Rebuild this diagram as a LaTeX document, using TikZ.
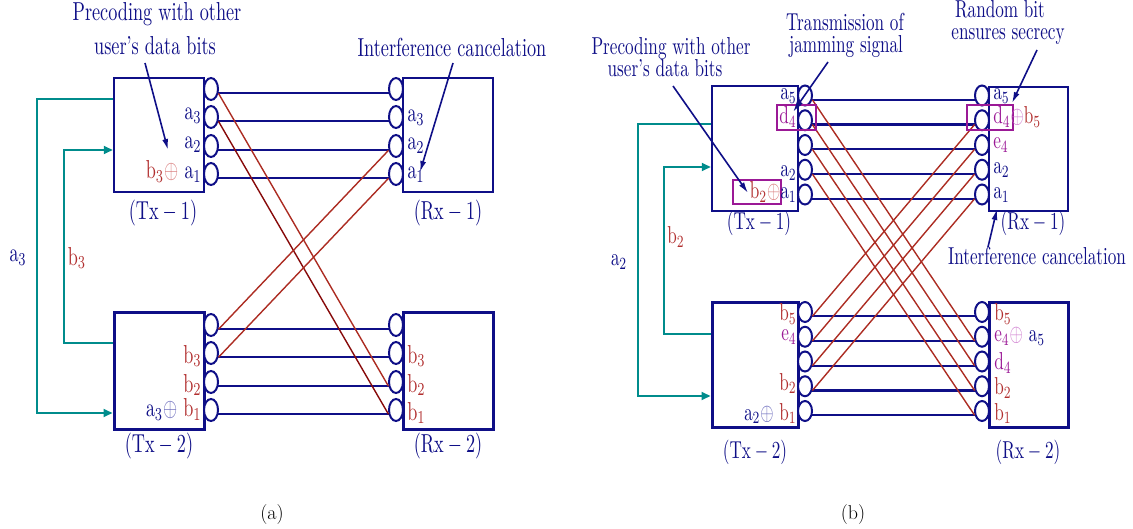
\documentclass[tikz,border=0pt]{standalone}
\usetikzlibrary{shapes.geometric,arrows.meta}
\definecolor{navy}{RGB}{15,15,135}
\definecolor{tred}{RGB}{178,48,48}
\definecolor{lred}{RGB}{172,44,34}
\definecolor{dred}{RGB}{135,10,10}
\definecolor{purp}{RGB}{155,25,150}
\definecolor{lpurp}{RGB}{205,120,205}
\definecolor{lredo}{RGB}{215,120,120}
\definecolor{lnavy}{RGB}{100,100,185}
\definecolor{tealc}{RGB}{0,140,140}
\newcommand\bitl[2]{$\mathrm{#1}_{#2}$}
\begin{document}
\begin{tikzpicture}[x=1pt,y=-1pt,
  box/.style={draw=navy,line width=2.5pt,rectangle,inner sep=0pt},
  antA/.style={ellipse,draw=navy,line width=2pt,fill=white,minimum width=14pt,minimum height=22pt,inner sep=0pt},
  antB/.style={antA,minimum height=20pt},
  wire/.style={draw=navy,line width=2.3pt},
  xw/.style={draw=lred,line width=1.4pt},
  fbk/.style={draw=tealc,line width=2pt,-{Triangle[length=9pt,width=8pt]}},
  note/.style={draw=navy,line width=1.6pt,-{Latex[length=11pt,width=6pt]}},
  prect/.style={draw=purp,line width=1.8pt,rectangle,inner sep=0pt},
  tA/.style={font=\fontsize{10}{12}\selectfont,xscale=1.82,yscale=2.6,inner sep=0pt,text=navy},
  tB/.style={font=\fontsize{10}{12}\selectfont,xscale=1.715,yscale=2.45,inner sep=0pt,text=navy}]
\useasboundingbox (0,0) rectangle (1133,529);

% ================= panel (a) =================
\node[box,minimum width=90pt,minimum height=114pt] (tx1) at (159,135) {};
\node[box,minimum width=90pt,minimum height=114pt] (rx1) at (448,135) {};
\node[box,line width=3pt,minimum width=90pt,minimum height=116pt] (tx2) at (159,371) {};
\node[box,line width=3pt,minimum width=90pt,minimum height=116pt] (rx2) at (448,371) {};

\foreach \i/\y in {1/89,2/117,3/146,4/174}{
  \node[antA] (ta\i) at (211,\y) {};
  \node[antA] (ra\i) at (396,\y) {};
}
\foreach \i/\y in {1/325,2/353,3/382,4/410}{
  \node[antA] (tb\i) at (211,\y) {};
  \node[antA] (rb\i) at (396,\y) {};
}
\foreach \i in {1,...,4}{
  \draw[wire] (ta\i.330) -- (ra\i.210);
  \draw[wire] (tb\i.330) -- (rb\i.210);
}
\draw[xw] (ta1.330) -- (rb3.210);
\draw[xw,draw=dred] (ta2.330) -- (rb4.210);
\draw[xw] (tb1.330) -- (ra3.210);
\draw[xw] (tb2.330) -- (ra4.210);

\draw[fbk] (tx1.west |- 0,99) -- (37,99) -- (37,413) -- (tx2.west |- 0,413);
\draw[fbk] (tx2.west |- 0,343) -- (64,343) -- (64,150) -- (tx1.west |- 0,150);
\node[tA] (fla) at (18,258) {\bitl a3};
\node[tA,text=tred] (flb) at (77,258) {\bitl b3};

\node[tA,anchor=base east] (lta3) at (202,120) {\bitl a3};
\node[tA,anchor=base east] (lta2) at (202,149) {\bitl a2};
\node[tA,anchor=base east] (lta1) at (202,179) {\textcolor{tred}{\bitl b3}\textcolor{lredo}{$\oplus$}\ \bitl a1};
\node[tA,anchor=base west] (lra3) at (407,122) {\bitl a3};
\node[tA,anchor=base west] (lra2) at (407,150) {\bitl a2};
\node[tA,anchor=base west] (lra1) at (407,179) {\bitl a1};
\node[tA,anchor=base east,text=tred] (ltb3) at (202,363) {\bitl b3};
\node[tA,anchor=base east,text=tred] (ltb2) at (202,392) {\bitl b2};
\node[tA,anchor=base east] (ltb1) at (202,417) {\bitl a3\textcolor{lnavy}{$\oplus$}\ \textcolor{tred}{\bitl b1}};
\node[tA,anchor=base west,text=tred] (lrb3) at (407,363) {\bitl b3};
\node[tA,anchor=base west,text=tred] (lrb2) at (407,392) {\bitl b2};
\node[tA,anchor=base west,text=tred] (lrb1) at (407,420) {\bitl b1};

\node[tA] (ctx1) at (163,213) {$(\mathrm{Tx}-1)$};
\node[tA] (crx1) at (448,213) {$(\mathrm{Rx}-1)$};
\node[tA] (ctx2) at (159,446) {$(\mathrm{Tx}-2)$};
\node[tA] (crx2) at (448,446) {$(\mathrm{Rx}-2)$};

\node[tA,anchor=base] (pa1) at (157,21) {Precoding with other};
\node[tA,anchor=base] (pa2) at (155,55) {user's data bits};
\coordinate (pas) at (145,63);
\coordinate (pae) at (168,150);
\draw[note] (pas) -- (pae);
\node[tA,anchor=base] (ia) at (452,57) {Interference cancelation};
\coordinate (ias) at (453,63);
\coordinate (iae) at (420,172);
\draw[note] (ias) -- (iae);

\node[font=\fontsize{20}{24}\selectfont] (capa) at (272,515) {(a)};

% ================= panel (b) =================
\node[box,minimum width=86pt,minimum height=125pt] (tx1b) at (755,148.5) {};
\node[box,minimum width=79pt,minimum height=124pt] (rx1b) at (1028.5,149) {};
\node[box,line width=3pt,minimum width=86pt,minimum height=124pt] (tx2b) at (755,365) {};
\node[box,line width=3pt,minimum width=79pt,minimum height=124pt] (rx2b) at (1028.5,365) {};

\foreach \i/\y in {1/95.5,2/120.25,3/145,4/169.75,5/194.5}{
  \node[antB] (tu\i) at (805,\y) {};
  \node[antB] (ru\i) at (982,\y) {};
}
\foreach \i/\y in {1/312,2/336.75,3/361.5,4/386.25,5/411}{
  \node[antB] (tl\i) at (805,\y) {};
  \node[antB] (rl\i) at (982,\y) {};
}
\foreach \i in {1,...,5}{
  \draw[wire] (tu\i.330) -- (ru\i.210);
  \draw[wire] (tl\i.330) -- (rl\i.210);
}
\foreach \i/\j in {1/2,2/3,3/4,4/5}{
  \draw[xw] (tu\i.330) -- (rl\j.210);
  \draw[xw] (tl\i.330) -- (ru\j.210);
}

\node[prect,minimum width=39pt,minimum height=25pt] (jamr) at (796.5,117.5) {};
\node[prect,minimum width=48pt,minimum height=24pt] (prer) at (757,192) {};
\node[prect,minimum width=46pt,minimum height=25pt] (secr) at (990,117.5) {};

\draw[fbk] (tx1b.west |- 0,124) -- (638,124) -- (638,396) -- (tx2b.west |- 0,396);
\draw[fbk] (tx2b.west |- 0,334) -- (664,334) -- (664,167) -- (tx1b.west |- 0,167);
\node[tB] (flab) at (619,262) {\bitl a2};
\node[tB,text=tred] (flbb) at (676,237) {\bitl b2};

\node[tB,anchor=base east] (ltu1) at (797,100) {\bitl a5};
\node[tB,anchor=base east,text=purp] (ltu2) at (797,124) {\bitl d4};
\node[tB,anchor=base east] (ltu4) at (797,177) {\bitl a2};
\node[tB,anchor=base east] (ltu5) at (797,199) {\textcolor{tred}{\bitl b2}\textcolor{lredo}{$\oplus$}\bitl a1};
\node[tB,anchor=base west] (lru1) at (993,100) {\bitl a5};
\node[tB,anchor=base west] (lru2) at (993,124) {\textcolor{purp}{\bitl d4}\textcolor{lpurp}{$\oplus$}\textcolor{tred}{\bitl b5}};
\node[tB,anchor=base west,text=purp] (lru3) at (993,149) {\bitl e4};
\node[tB,anchor=base west] (lru4) at (993,174) {\bitl a2};
\node[tB,anchor=base west] (lru5) at (993,199) {\bitl a1};
\node[tB,anchor=base east,text=tred] (ltl1) at (797,321) {\bitl b5};
\node[tB,anchor=base east,text=purp] (ltl2) at (797,341) {\bitl e4};
\node[tB,anchor=base east,text=tred] (ltl4) at (797,390) {\bitl b2};
\node[tB,anchor=base east] (ltl5) at (797,420) {\bitl a2\textcolor{lnavy}{$\oplus$}\ \textcolor{tred}{\bitl b1}};
\node[tB,anchor=base west,text=tred] (lrl1) at (994,321) {\bitl b5};
\node[tB,anchor=base west] (lrl2) at (994,342) {\textcolor{purp}{\bitl e4}\textcolor{lpurp}{$\oplus$}\ \bitl a5};
\node[tB,anchor=base west,text=purp] (lrl3) at (994,370) {\bitl d4};
\node[tB,anchor=base west,text=tred] (lrl4) at (994,395) {\bitl b2};
\node[tB,anchor=base west,text=tred] (lrl5) at (994,420) {\bitl b1};

\node[tB] (ctx1b) at (759,223) {$(\mathrm{Tx}-1)$};
\node[tB] (crx1b) at (1033,223) {$(\mathrm{Rx}-1)$};
\node[tB] (ctx2b) at (755,452) {$(\mathrm{Tx}-2)$};
\node[tB] (crx2b) at (1028,452) {$(\mathrm{Rx}-2)$};

\node[tB,anchor=base] (pb1) at (671,55) {Precoding with other};
\node[tB,anchor=base] (pb2) at (665,77) {user's data bits};
\coordinate (pbs) at (673,86);
\coordinate (pbe) at (748,193);
\draw[note] (pbs) -- (pbe);

\node[tB,anchor=base] (tj1) at (845,31) {Transmission of};
\node[tB,anchor=base] (tj2) at (846,53) {jamming signal};
\coordinate (tjs) at (828,62);
\coordinate (tje) at (793,112);
\draw[note] (tjs) -- (tje);

\node[tB,anchor=base] (rs1) at (1000,18) {Random bit};
\node[tB,anchor=base] (rs2) at (1008,40) {ensures secrecy};
\coordinate (rss) at (1037,50);
\coordinate (rse) at (1012,103);
\draw[note] (rss) -- (rse);

\node[tB,anchor=base] (ib) at (1037,265) {Interference cancelation};
\coordinate (ibs) at (988,247);
\coordinate (ibe) at (997,209);
\draw[note] (ibs) -- (ibe);

\node[font=\fontsize{20}{24}\selectfont] (capb) at (853,515) {(b)};
\end{tikzpicture}
\end{document}
